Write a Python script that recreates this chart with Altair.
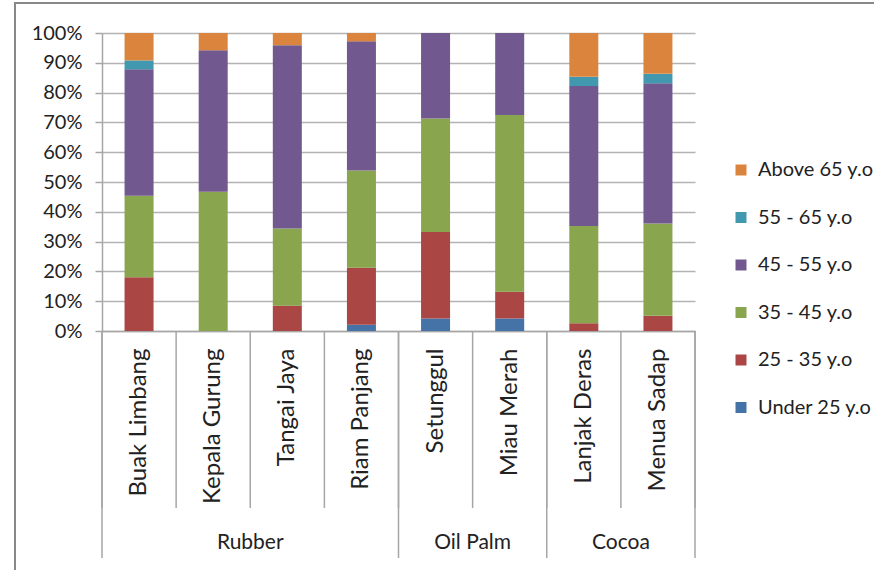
import altair as alt
import pandas as pd

# Age structure of farmers, percent of respondents per village
villages = ["Buak Limbang", "Kepala Gurung", "Tangai Jaya", "Riam Panjang",
            "Setunggul", "Miau Merah", "Lanjak Deras", "Menua Sadap"]
crops = ["Rubber", "Rubber", "Rubber", "Rubber",
         "Oil Palm", "Oil Palm", "Cocoa", "Cocoa"]

age_groups = ["Under 25 y.o", "25 - 35 y.o", "35 - 45 y.o",
              "45 - 55 y.o", "55 - 65 y.o", "Above 65 y.o"]
under_25 = [0.0, 0.0, 0.0, 2.1, 4.2, 4.2, 0.0, 0.0]
age_25_35 = [18.0, 0.0, 8.5, 19.1, 29.0, 9.0, 2.6, 5.1]
age_35_45 = [27.4, 46.7, 25.9, 32.7, 38.1, 59.3, 32.6, 31.0]
age_45_55 = [42.4, 47.5, 61.5, 43.3, 28.7, 27.5, 47.0, 47.0]
age_55_65 = [3.0, 0.0, 0.0, 0.0, 0.0, 0.0, 3.1, 3.2]
above_65 = [9.2, 5.8, 4.1, 2.8, 0.0, 0.0, 14.7, 13.7]

colors = ["#4572A7", "#AA4643", "#89A54E", "#71588F", "#4198AF", "#DB843D"]

series = [under_25, age_25_35, age_35_45, age_45_55, age_55_65, above_65]
rows = []
for rank, (grp, vals) in enumerate(zip(age_groups, series)):
    for v, c, val in zip(villages, crops, vals):
        rows.append({"village": v, "crop": c, "age": grp, "rank": rank, "pct": val})
df = pd.DataFrame(rows)

# boundaries between villages (index positions) and between crop groups
n = len(villages)
village_edges = pd.DataFrame({"pos": list(range(n + 1))})
crop_names, crop_counts = [], []
for c in crops:
    if crop_names and crop_names[-1] == c:
        crop_counts[-1] += 1
    else:
        crop_names.append(c)
        crop_counts.append(1)
starts, acc = [], 0
for k in crop_counts:
    starts.append(acc)
    acc += k
crop_df = pd.DataFrame({"crop": crop_names, "start": starts,
                        "end": [s + k for s, k in zip(starts, crop_counts)]})
crop_df["mid"] = (crop_df["start"] + crop_df["end"]) / 2
crop_edges = pd.DataFrame({"pos": [0] + list(crop_df["end"])})

W, H = 593, 298
FONT = "Lato"
TEXT = "#222222"
LINE = "#a6a6a6"

legend_order = list(reversed(age_groups))
legend_colors = list(reversed(colors))

bars = alt.Chart(df).mark_bar(size=29).encode(
    x=alt.X("village:N", sort=villages, title=None,
            scale=alt.Scale(paddingInner=0.61, paddingOuter=0.305),
            axis=alt.Axis(labelAngle=270, ticks=False, labelPadding=17,
                          labelFont=FONT, labelFontSize=24, labelColor=TEXT,
                          domainColor=LINE, domainWidth=1.5, grid=False)),
    y=alt.Y("pct:Q", stack="normalize", title=None,
            scale=alt.Scale(domain=[0, 1]),
            axis=alt.Axis(format=".0%", values=[i / 10 for i in range(11)],
                          labelFont=FONT, labelFontSize=20, labelColor=TEXT,
                          labelPadding=13, tickSize=7, tickColor=LINE,
                          tickWidth=1.5, domainColor=LINE, domainWidth=1.5,
                          gridColor="#b3b3b3", gridWidth=1.5)),
    color=alt.Color("age:N", title=None,
                    scale=alt.Scale(domain=legend_order, range=legend_colors),
                    legend=alt.Legend(orient="none", legendX=629, legendY=127,
                                      symbolType="square", symbolSize=121,
                                      symbolStrokeWidth=0, labelOffset=7,
                                      labelFont=FONT, labelFontSize=20,
                                      labelColor=TEXT, rowPadding=27.5,
                                      labelLimit=200)),
    order=alt.Order("rank:Q", sort="ascending"),
)

xq = alt.Scale(domain=[0, n])

village_lines = alt.Chart(village_edges).mark_rule(color=LINE, strokeWidth=1.5).encode(
    x=alt.X("pos:Q", scale=xq, axis=None),
    y=alt.value(H), y2=alt.value(H + 177),
)

crop_lines = alt.Chart(crop_edges).mark_rule(color=LINE, strokeWidth=1.5).encode(
    x=alt.X("pos:Q", scale=xq, axis=None),
    y=alt.value(H), y2=alt.value(H + 227),
)

crop_labels = alt.Chart(crop_df).mark_text(
    font=FONT, fontSize=21, color=TEXT, baseline="middle", align="center"
).encode(
    x=alt.X("mid:Q", scale=xq, axis=None),
    y=alt.value(H + 212),
    text="crop:N",
)

frame = alt.Chart(pd.DataFrame({"k": [0]})).mark_rect(
    filled=False, stroke="#888888", strokeWidth=2
).encode(
    x=alt.value(-87), x2=alt.value(800),
    y=alt.value(-30), y2=alt.value(560),
)

chart = alt.layer(
    frame, bars, village_lines, crop_lines, crop_labels
).resolve_scale(x="independent").properties(
    width=W, height=H,
    autosize=alt.AutoSizeParams(type="none"),
    padding={"left": 102, "top": 33, "right": 874 - 102 - W, "bottom": 570 - 33 - H},
    background="white",
).configure_view(strokeWidth=0)

chart.save("out.html", embed_options={"renderer": "svg", "actions": False})
